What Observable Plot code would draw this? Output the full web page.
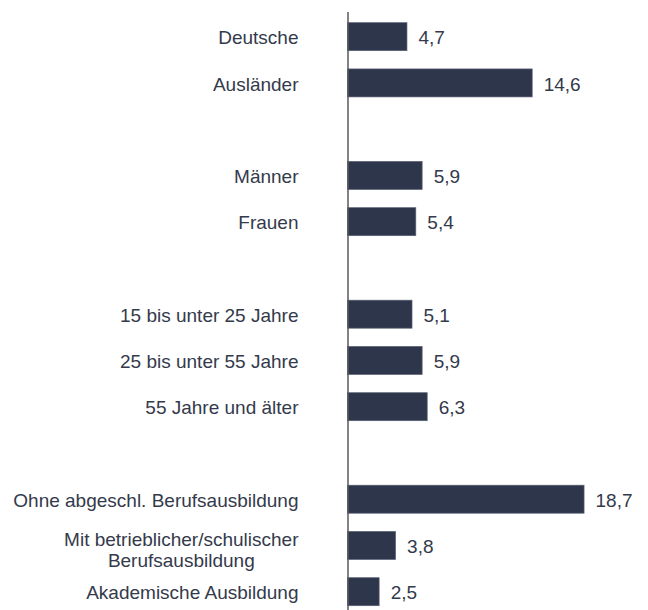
<!DOCTYPE html>
<html>
<head>
<meta charset="utf-8">
<script src="https://cdn.jsdelivr.net/npm/d3@7"></script>
<script src="https://cdn.jsdelivr.net/npm/@observablehq/plot@0.6"></script>
<style>
  html, body { margin: 0; padding: 0; background: #ffffff; }
  #chart { width: 648px; height: 610px; }
</style>
</head>
<body>
<div id="chart"></div>
<script>
// ---- data ----
const groupA = ["Deutsche", "Ausländer"];
const valuesA = [4.7, 14.6];
const groupB = ["Männer", "Frauen"];
const valuesB = [5.9, 5.4];
const groupC = ["15 bis unter 25 Jahre", "25 bis unter 55 Jahre", "55 Jahre und älter"];
const valuesC = [5.1, 5.9, 6.3];
const groupD = ["Ohne abgeschl. Berufsausbildung", "Mit betrieblicher/schulischer\nBerufsausbildung", "Akademische Ausbildung"];
const valuesD = [18.7, 3.8, 2.5];

const groups = [[groupA, valuesA], [groupB, valuesB], [groupC, valuesC], [groupD, valuesD]];

// build rows and the band domain with empty spacer slots between groups
const rows = [];
const domain = [];
groups.forEach(([labels, values], gi) => {
  if (gi > 0) domain.push("__gap" + gi);
  labels.forEach((label, i) => {
    domain.push(label);
    rows.push({label, value: values[i]});
  });
});

const fmt = v => d3.format(".1f")(v).replace(".", ",");

const FONT = "'Liberation Sans', Arial, Helvetica, sans-serif";
const FS = 19;
const textColor = "#343a4b";
const barColor = "#2e364b";

// measure width of multi-line labels so they can be centered as a block
const ctx = document.createElement("canvas").getContext("2d");
ctx.font = `${FS}px ${FONT}`;
const blockWidth = s => d3.max(s.split("\n"), l => ctx.measureText(l).width);

const singleRows = rows.filter(d => !d.label.includes("\n"));
const multiRows = rows.filter(d => d.label.includes("\n"));
const labelGap = 49.5;

const marks = [
  Plot.barX(rows, {x: "value", y: "label", fill: barColor, stroke: "#596074", strokeWidth: 0.7}),
  Plot.ruleX([0], {stroke: "#5a5a5a", strokeWidth: 1.5}),
  Plot.text(rows, {
    x: "value", y: "label", text: d => fmt(d.value),
    textAnchor: "start", dx: 11, dy: 1, fill: textColor
  }),
  Plot.text(singleRows, {
    x: () => 0, y: "label", text: "label",
    textAnchor: "end", dx: -labelGap, dy: 1, fill: textColor
  })
];
multiRows.forEach(r => {
  marks.push(Plot.text([r], {
    x: () => 0, y: "label", text: "label",
    textAnchor: "middle", dx: -labelGap - blockWidth(r.label) / 2, dy: 4,
    lineHeight: 1.12, fill: textColor
  }));
});

const chart = Plot.plot({
  width: 648,
  height: 610,
  marginLeft: 347.5,
  marginRight: 47.5,
  marginTop: 12,
  marginBottom: 0,
  x: {domain: [0, 20], axis: null},
  y: {domain, axis: null, paddingInner: 0.395, paddingOuter: 0.162, align: 0.713, round: false},
  style: {fontFamily: FONT, fontSize: FS + "px", background: "#ffffff", color: textColor},
  marks
});
document.getElementById("chart").appendChild(chart);
</script>
</body>
</html>
